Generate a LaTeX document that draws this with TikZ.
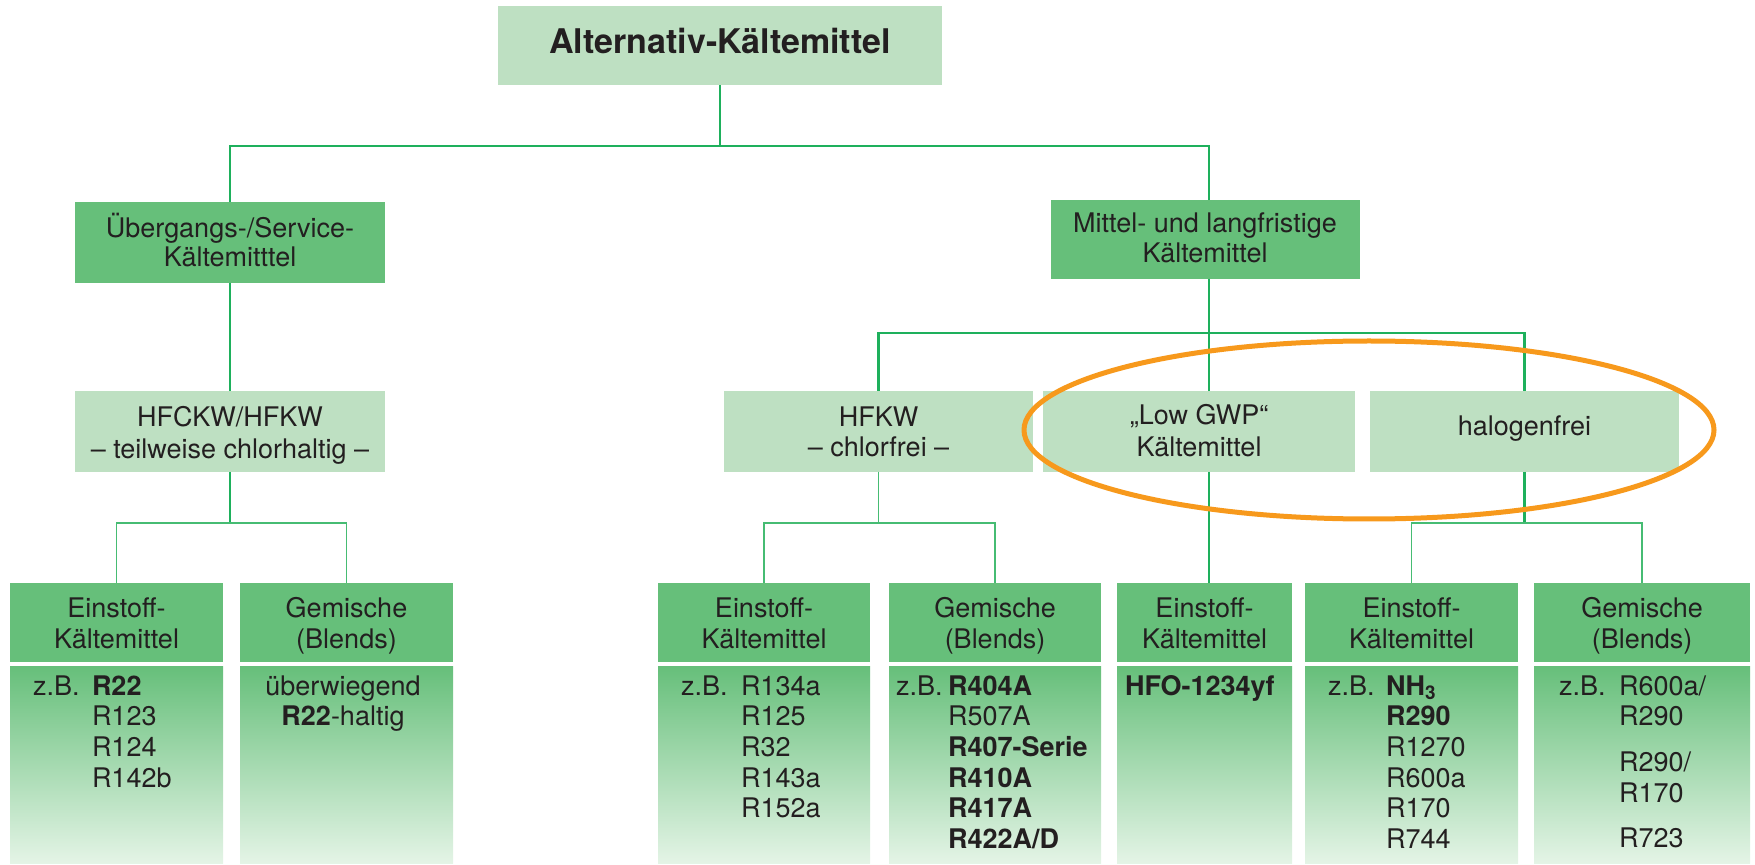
\documentclass[tikz,border=0pt]{standalone}
\usepackage{fontspec}
\setmainfont{TeX Gyre Heros}
\definecolor{hdr}{RGB}{102,191,122}
\definecolor{lgt}{RGB}{190,224,194}
\definecolor{bodybot}{RGB}{228,244,230}
\definecolor{ln}{RGB}{30,176,92}
\definecolor{lnl}{RGB}{70,188,115}
\definecolor{org}{RGB}{247,153,28}
\definecolor{ink}{RGB}{35,31,32}
\newcommand{\mlines}[1]{\begin{tabular}[t]{@{}c@{}}#1\end{tabular}}
\newcommand{\zlist}[2]{\begin{tabular}[t]{@{}l@{}l@{}}\makebox[#1][l]{z.B.} & #2\end{tabular}}
\begin{document}
\begin{tikzpicture}[x=0.5pt,y=-0.5pt,
  every node/.style={inner sep=0pt, outer sep=0pt, text=ink},
  hdrbox/.style={fill=hdr, minimum height=39.5pt},
  lgtbox/.style={fill=lgt, minimum height=40.5pt},
  bodybox/.style={top color=hdr, bottom color=bodybot, minimum height=98.5pt},
  txt/.style={font=\fontsize{13.5}{#1}\selectfont, anchor=base},
  txt/.default=15.5pt,
  lst/.style={font=\fontsize{13.5}{15.35}\selectfont, anchor=base west},
  conn/.style={draw=ln, line width=1.2pt},
  conn2/.style={draw=lnl, line width=0.8pt}
]
\useasboundingbox (0,0) rectangle (1755,865);

% level 0
\node[fill=lgt, minimum width=222pt, minimum height=39.5pt] (top) at (720,45.5) {};
\node[anchor=base, font=\bfseries\fontsize{17}{20}\selectfont] (toptx) at (720,54) {Alternativ-Kältemittel};

% level 1
\node[hdrbox, minimum width=155pt, minimum height=40.5pt] (ueb) at (230,242.5) {};
\node[txt=14.5pt] (uebt) at (230,238) {\mlines{Übergangs-/Service-\\Kältemitttel}};
\node[hdrbox, minimum width=154.5pt] (mit) at (1205,239.5) {};
\node[txt=15pt] (mitt) at (1205,233) {\mlines{Mittel- und langfristige\\Kältemittel}};

% level 2
\node[lgtbox, minimum width=155pt] (hfckw) at (230,431.5) {};
\node[txt=15.8pt] (hfckwt) at (230,427) {\mlines{HFCKW/HFKW\\– teilweise chlorhaltig –}};
\node[lgtbox, minimum width=154.5pt] (hfkw) at (878.5,431.5) {};
\node[txt=15pt] (hfkwt) at (878.5,426.7) {\mlines{HFKW\\– chlorfrei –}};
\node[lgtbox, minimum width=156pt] (lgwp) at (1199,431.5) {};
\node[txt=15.8pt] (lgwpt) at (1199,425) {\mlines{„Low GWP“\\Kältemittel}};
\node[lgtbox, minimum width=154.5pt] (halo) at (1524.5,431.5) {};
\node[txt] (halot) at (1524.5,436) {halogenfrei};

% level 3 headers
\node[hdrbox, minimum width=106.5pt] (h1) at (116.5,622.5) {};
\node[hdrbox, minimum width=106.5pt] (h2) at (346.5,622.5) {};
\node[hdrbox, minimum width=106pt] (h3) at (764,622.5) {};
\node[hdrbox, minimum width=106pt] (h4) at (995,622.5) {};
\node[hdrbox, minimum width=87.5pt] (h5) at (1204.5,622.5) {};
\node[hdrbox, minimum width=106.5pt] (h6) at (1411.5,622.5) {};
\node[hdrbox, minimum width=108pt] (h7) at (1642,622.5) {};
\node[txt=16pt] (h1t) at (116.5,617) {\mlines{Einstoff-\\Kältemittel}};
\node[txt=16pt] (h2t) at (346.5,617) {\mlines{Gemische\\(Blends)}};
\node[txt=16pt] (h3t) at (764,617) {\mlines{Einstoff-\\Kältemittel}};
\node[txt=16pt] (h4t) at (995,617) {\mlines{Gemische\\(Blends)}};
\node[txt=16pt] (h5t) at (1204.5,617) {\mlines{Einstoff-\\Kältemittel}};
\node[txt=16pt] (h6t) at (1411.5,617) {\mlines{Einstoff-\\Kältemittel}};
\node[txt=16pt] (h7t) at (1642,617) {\mlines{Gemische\\(Blends)}};

% level 3 bodies
\node[bodybox, minimum width=106.5pt] (b1) at (116.5,764.5) {};
\node[bodybox, minimum width=106.5pt] (b2) at (346.5,764.5) {};
\node[bodybox, minimum width=106pt] (b3) at (764,764.5) {};
\node[bodybox, minimum width=106pt] (b4) at (995,764.5) {};
\node[bodybox, minimum width=87.5pt] (b5) at (1204.5,764.5) {};
\node[bodybox, minimum width=106.5pt] (b6) at (1411.5,764.5) {};
\node[bodybox, minimum width=108pt] (b7) at (1642,764.5) {};

\node[lst] (b1t) at (33,695) {\zlist{29.5pt}{\textbf{R22}\\ & R123\\ & R124\\ & R142b}};
\node[txt=15.35pt] (b2t) at (343,695) {\mlines{überwiegend\\\textbf{R22}-haltig}};
\node[lst] (b3t) at (681,695) {\zlist{30pt}{R134a\\ & R125\\ & R32\\ & R143a\\ & R152a}};
\node[lst] (b4t) at (896,695) {\zlist{26pt}{\textbf{R404A}\\ & R507A\\ & \textbf{R407-Serie}\\ & \textbf{R410A}\\ & \textbf{R417A}\\ & \textbf{R422A/D}}};
\node[lst] (b5t) at (1125,695) {\textbf{HFO-1234yf}};
\node[lst] (b6t) at (1328,695) {\zlist{29pt}{\textbf{NH\textsubscript{3}}\\ & \textbf{R290}\\ & R1270\\ & R600a\\ & R170\\ & R744}};
\node[lst] (b7t) at (1559,695) {\zlist{30pt}{R600a/\\ & R290\\[7.5pt] & R290/\\ & R170\\[7.5pt] & R723}};

% connectors
\coordinate (j0) at (720,146);
\draw[conn] (top.south) -- (j0);
\draw[conn] (ueb.north) |- (j0) -| (mit.north -| 1209,0);
\draw[conn] (ueb.south) -- (hfckw.north);
\coordinate (j1) at (1209,333);
\draw[conn] (mit.south -| j1) -- (j1);
\draw[conn] (hfkw.north) |- (j1) -| (halo.north);
\draw[conn] (j1) -- (lgwp.north -| j1);
\coordinate (j2) at (230,523);
\draw[conn] (hfckw.south) -- (j2);
\draw[conn2] (h1.north) |- (j2) -| (h2.north);
\coordinate (j3) at (878.5,523);
\draw[conn2] (hfkw.south) -- (j3);
\draw[conn2] (h3.north) |- (j3) -| (h4.north);
\draw[conn] (lgwp.south -| j1) -- (h5.north -| j1);
\coordinate (j4) at (1524.5,523);
\draw[conn] (halo.south) -- (j4);
\draw[conn2] (h6.north) |- (j4) -| (h7.north);

% highlight ellipse
\draw[org, line width=2.5pt] (1369,430) ellipse [x radius=172.5pt, y radius=44.5pt];
\end{tikzpicture}
\end{document}
